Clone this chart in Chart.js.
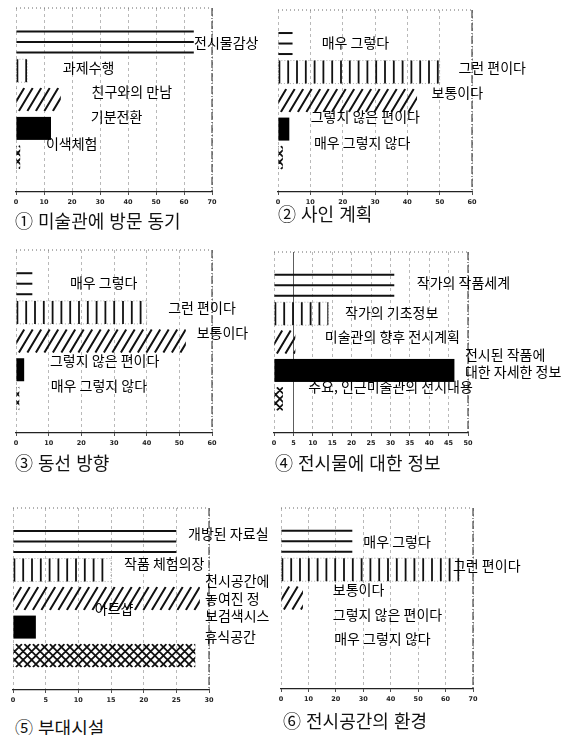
<!DOCTYPE html>
<html lang="ko">
<head>
<meta charset="UTF-8">
<title>미술관 설문 결과</title>
<script src="https://cdn.jsdelivr.net/npm/chart.js"></script>
<style>
  body { margin: 0; background: #fff; }
  #page { position: relative; width: 573px; height: 735px; overflow: hidden; }
  canvas { position: absolute; }
  .ttl { position: absolute; font: 18px "Noto Sans CJK KR", sans-serif; line-height: 20px; color: #111; white-space: nowrap; }
</style>
</head>
<body>
<div id="page"></div>

<script>
// ---- data (percent) ----
const p1Labels = ['전시물감상', '과제수행', '친구와의 만남', '기분전환', '이색체험'];
const p1Values = [63.5, 4, 16, 12.5, 1.5];

const p2Labels = ['매우 그렇다', '그런 편이다', '보통이다', '그렇지 않은 편이다', '매우 그렇지 않다'];
const p2Values = [4.5, 50, 43, 3.5, 1.5];

const p3Labels = ['매우 그렇다', '그런 편이다', '보통이다', '그렇지 않은 편이다', '매우 그렇지 않다'];
const p3Values = [5, 40, 52, 2.5, 1];

const p4Labels = ['작가의 작품세계', '작가의 기초정보', '미술관의 향후 전시계획', '전시된 작품에 대한 자세한 정보', '주요, 인근미술관의 전시내용'];
const p4Values = [31, 14, 5.5, 46.5, 2.3];

const p5Labels = ['개방된 자료실', '작품 체험의장', '전시공간에 놓여진 정보검색시스템', '아트샵', '휴식공간'];
const p5Values = [25, 15, 28.6, 3.5, 27.9];

const p6Labels = ['매우 그렇다', '그런 편이다', '보통이다', '그렇지 않은 편이다', '매우 그렇지 않다'];
const p6Values = [26, 65, 8, 0, 0];

const titles = ['① 미술관에 방문 동기', '② 사인 계획', '③ 동선 방향', '④ 전시물에 대한 정보', '⑤ 부대시설', '⑥ 전시공간의 환경'];
const axisMax = [70, 60, 60, 50, 30, 70];
const axisStep = [10, 10, 10, 5, 5, 10];

// fill style for the five bars (same order in every panel)
const fills = ['hlines', 'vlines', 'diag', 'solid', 'cross'];

// how the label text is broken into lines as printed
const p4Text = ['작가의 작품세계', '작가의 기초정보', '미술관의 향후 전시계획', ['전시된 작품에', '대한 자세한 정보'], '주요, 인근미술관의 전시내용'];
const p5Text = ['개방된 자료실', '작품 체험의장', ['전시공간에', '놓여진 정', '보검색시스'], '아트샵', '휴식공간'];

// where each label sits: [x value, row position]
const labelPos = [
  [[63.6, 0.02], [16.7, 0.88], [27, 1.72], [26.7, 2.58], [10.7, 3.52]],
  [[13.5, -0.02], [55.8, 0.86], [47.5, 1.71], [10.1, 2.57], [11.1, 3.49]],
  [[16.5, -0.04], [46.6, 0.83], [55.3, 1.72], [10.4, 2.67], [10.6, 3.56]],
  [[36.8, -0.08], [18.3, 0.98], [13.1, 1.82], [49.2, 2.44], [8.8, 3.57]],
  [[26.8, -0.28], [17.0, 0.79], [29.4, 1.39], [12.5, 2.35], [29.3, 3.35]],
  [[30.0, 0.0], [62.7, 0.85], [18.9, 1.71], [18.9, 2.57], [19.4, 3.42]]
];
const ROW_MIN = -0.72, ROW_MAX = 4.75;

// canvas box + plot area (page px)
const boxes = [
  { left: 0,   top: 0,   w: 300, h: 212, area: [16, 8, 212, 192] },
  { left: 260, top: 0,   w: 313, h: 212, area: [278, 10, 472, 192] },
  { left: 0,   top: 240, w: 300, h: 213, area: [16, 250, 212, 433] },
  { left: 260, top: 240, w: 313, h: 213, area: [274, 252, 468, 433] },
  { left: 0,   top: 495, w: 300, h: 213, area: [13, 508, 209, 690] },
  { left: 260, top: 495, w: 313, h: 213, area: [281, 508, 473, 689] }
];
const titlePos = [[15, 210], [278, 203], [15, 452], [275, 452], [15, 717], [283, 710]];

const panels = [
  { labels: p1Labels, values: p1Values, text: p1Labels },
  { labels: p2Labels, values: p2Values, text: p2Labels },
  { labels: p3Labels, values: p3Values, text: p3Labels },
  { labels: p4Labels, values: p4Values, text: p4Text },
  { labels: p5Labels, values: p5Values, text: p5Text },
  { labels: p6Labels, values: p6Values, text: p6Labels }
];

const AXIS_H = 16;

// draws the hatch patterns inside the bar rectangles Chart.js computed
const hatchPlugin = {
  id: 'hatch',
  afterDatasetsDraw(chart) {
    const ctx = chart.ctx;
    const meta = chart.getDatasetMeta(0);
    meta.data.forEach((bar, i) => {
      const p = bar.getProps(['x', 'y', 'base', 'height'], true);
      const x0 = Math.min(p.base, p.x), x1 = Math.max(p.base, p.x);
      const y0 = p.y - p.height / 2, y1 = p.y + p.height / 2, h = y1 - y0;
      if (x1 - x0 < 0.5) return;
      ctx.save();
      ctx.strokeStyle = '#111';
      ctx.fillStyle = '#000';
      const style = fills[i];
      if (style === 'solid') {
        ctx.fillRect(x0, y0, x1 - x0, h);
      } else if (style === 'hlines') {
        ctx.lineWidth = 2;
        [y0 + 1, p.y, y1 - 1].forEach(yy => {
          ctx.beginPath(); ctx.moveTo(x0, yy); ctx.lineTo(x1, yy); ctx.stroke();
        });
      } else {
        if (style === 'vlines') {
          ctx.save();
          ctx.strokeStyle = '#999'; ctx.lineWidth = 0.8; ctx.setLineDash([1, 2]);
          ctx.strokeRect(x0, y0, x1 - x0, h);
          ctx.restore();
        }
        ctx.beginPath(); ctx.rect(x0, y0 - 0.5, x1 - x0, h + 1); ctx.clip();
        ctx.beginPath();
        if (style === 'vlines') {
          ctx.lineWidth = 1.8;
          for (let xx = x0 + 1; xx <= x1; xx += 8.8) { ctx.moveTo(xx, y0); ctx.lineTo(xx, y1); }
        } else if (style === 'diag') {
          ctx.lineWidth = 2;
          for (let xx = x0 - h; xx <= x1; xx += 8.5) { ctx.moveTo(xx, y1); ctx.lineTo(xx + h * 0.6, y0); }
        } else if (style === 'cross') {
          ctx.lineWidth = 1.8;
          for (let xx = x0 - h; xx <= x1 + h; xx += 8.5) {
            ctx.moveTo(xx, y1); ctx.lineTo(xx + h, y0);
            ctx.moveTo(xx, y0); ctx.lineTo(xx + h, y1);
          }
        }
        ctx.stroke();
      }
      ctx.restore();
    });
  },
  beforeDatasetsDraw(chart) {
    // dotted top edge and darker right edge of the frame
    const { ctx, chartArea: a } = chart;
    ctx.save();
    ctx.strokeStyle = '#666'; ctx.lineWidth = 1; ctx.setLineDash([1, 3]);
    ctx.beginPath(); ctx.moveTo(a.left, a.top); ctx.lineTo(a.right, a.top); ctx.stroke();
    ctx.strokeStyle = '#222'; ctx.setLineDash([8, 2, 1, 2]);
    ctx.beginPath(); ctx.moveTo(a.right, a.top); ctx.lineTo(a.right, a.bottom); ctx.stroke();
    ctx.restore();
  }
};

// category names written beside the bars
const labelPlugin = {
  id: 'barText',
  afterDraw(chart, args, opts) {
    const ctx = chart.ctx;
    ctx.save();
    ctx.font = '14px "Noto Sans CJK KR", sans-serif';
    ctx.fillStyle = '#000';
    ctx.textAlign = 'left';
    ctx.textBaseline = 'middle';
    opts.text.forEach((t, i) => {
      const x = chart.scales.x.getPixelForValue(opts.pos[i][0]);
      const y = chart.scales.y.getPixelForValue(opts.pos[i][1]);
      const lines = Array.isArray(t) ? t : [t];
      lines.forEach((ln, k) => ctx.fillText(ln, x, y + k * 17.5));
    });
    ctx.restore();
  }
};

const page = document.getElementById('page');

panels.forEach((pn, n) => {
  const b = boxes[n];
  const cv = document.createElement('canvas');
  cv.width = b.w; cv.height = b.h;
  cv.style.left = b.left + 'px'; cv.style.top = b.top + 'px';
  cv.style.width = b.w + 'px'; cv.style.height = b.h + 'px';
  page.appendChild(cv);

  const [l, t, r, bt] = b.area;
  new Chart(cv.getContext('2d'), {
    type: 'bar',
    data: {
      labels: pn.labels,
      datasets: [{
        data: pn.values.map((v, i) => ({ x: v, y: i })),
        backgroundColor: 'rgba(0,0,0,0)',
        borderWidth: 0,
        barThickness: 23
      }]
    },
    options: {
      indexAxis: 'y',
      responsive: false,
      animation: false,
      layout: {
        padding: {
          left: l - b.left,
          top: t - b.top,
          right: b.left + b.w - r,
          bottom: b.top + b.h - bt - AXIS_H
        }
      },
      scales: {
        x: {
          min: 0, max: axisMax[n],
          afterFit(s) { s.height = AXIS_H; },
          ticks: {
            stepSize: axisStep[n],
            font: { family: 'DejaVu Sans', size: 6.5, weight: 'bold' },
            color: '#222',
            padding: 3,
            maxRotation: 0
          },
          grid: {
            color: c => (n === 3 && c.tick && c.tick.value === 5) ? '#333' : 'rgba(0,0,0,0.35)',
            lineWidth: 0.8,
            tickColor: '#222',
            tickLength: 3
          },
          border: { display: true, color: '#222', width: 1.2, dash: c => (n === 3 && c.tick && c.tick.value === 5) ? [] : [3, 3] }
        },
        y: { type: 'linear', reverse: true, min: ROW_MIN, max: ROW_MAX, display: false }
      },
      plugins: {
        legend: { display: false },
        tooltip: { enabled: false },
        barText: { text: pn.text, pos: labelPos[n] }
      }
    },
    plugins: [hatchPlugin, labelPlugin]
  });

  const tt = document.createElement('div');
  tt.className = 'ttl';
  tt.textContent = titles[n];
  tt.style.left = titlePos[n][0] + 'px';
  tt.style.top = titlePos[n][1] + 'px';
  page.appendChild(tt);
});
</script>
</body>
</html>
